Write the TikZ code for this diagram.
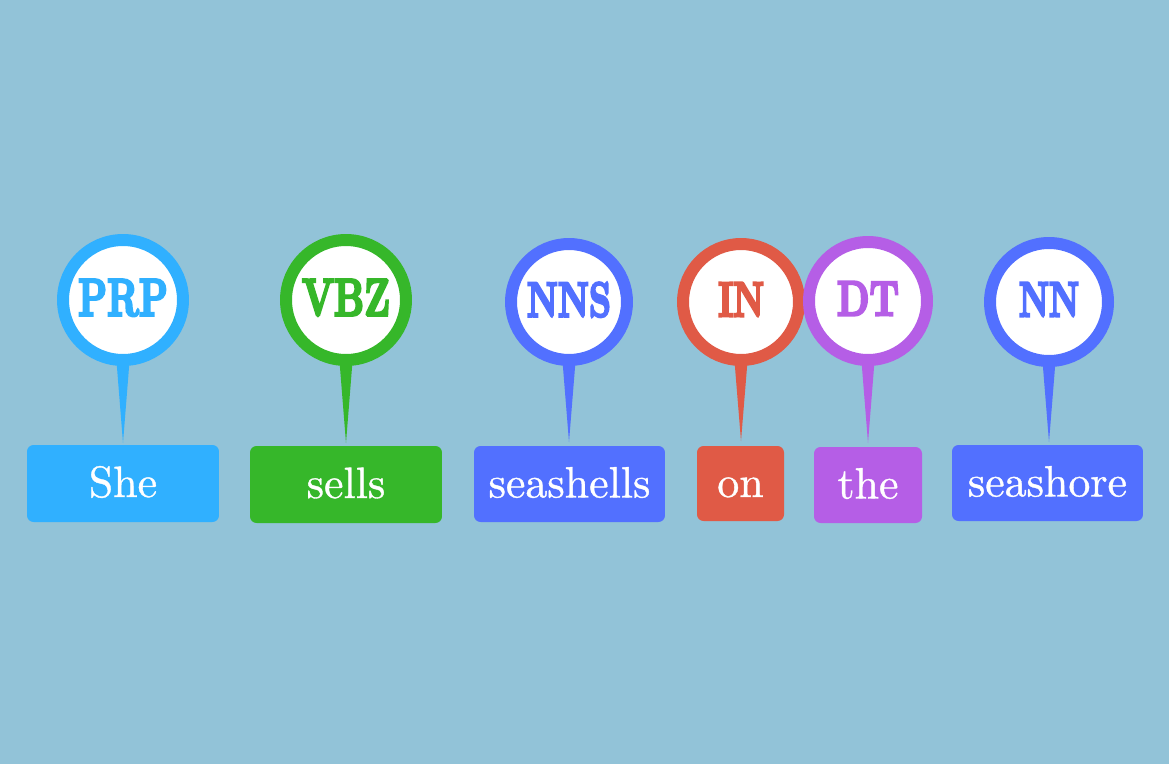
\documentclass[tikz,border=0pt]{standalone}
\usepackage{fontspec}
\usepackage{graphicx}
\usepackage{xcolor}
\usetikzlibrary{calc}
\newfontface\tagfont{lmroman10-bold.otf}[FakeBold=5]
\newfontface\wordfont{lmroman10-regular.otf}[FakeBold=0.8]
\definecolor{bgcol}{HTML}{92C3D8}
\definecolor{prpcol}{HTML}{30B0FF}
\definecolor{vbzcol}{HTML}{36B72A}
\definecolor{nncol}{HTML}{5270FF}
\definecolor{incol}{HTML}{E05A46}
\definecolor{dtcol}{HTML}{B55EE6}
\newcommand{\tagtext}[2][0.7]{\raisebox{0.1cm}{\scalebox{#1}[1]{#2}}}
\tikzset{
	tag/.style={circle, draw=#1, fill=white, line width=0.24cm, inner sep=0pt,
		text=#1, font=\tagfont\fontsize{28}{28}\selectfont},
	word/.style={rectangle, rounded corners=0.13cm, fill=#1, text=white, inner sep=0pt,
		text height=0.6cm, text depth=0.06cm, font=\wordfont\fontsize{25}{25}\selectfont},
	pin/.style={fill=#1}
}

\begin{document}
\begin{tikzpicture}[x=0.02cm, y=-0.02cm]
	\fill[bgcol] (0,0) rectangle (1169,764);
	\useasboundingbox (0,0) rectangle (1169,764);
	
	% word boxes
	\node[word=prpcol, minimum width=3.84cm, minimum height=1.54cm] (she) at (123, 483.5) {She};
	\node[word=vbzcol, minimum width=3.84cm, minimum height=1.54cm] (sells) at (346, 484.5) {sells};
	\node[word=nncol, minimum width=3.82cm, minimum height=1.52cm] (seashells) at (569.5, 484) {seashells};
	\node[word=incol, minimum width=1.74cm, minimum height=1.50cm] (on) at (740.5, 483.5) {on};
	\node[word=dtcol, minimum width=2.16cm, minimum height=1.52cm] (the) at (868, 485) {the};
	\node[word=nncol, minimum width=3.82cm, minimum height=1.52cm] (seashore) at (1047.5, 483) {seashore};
	
	% pins
	\fill[pin=prpcol] (116,355) -- (130,355) -- (123,443) -- cycle;
	\fill[pin=vbzcol] (339,355) -- (353,355) -- (346,443) -- cycle;
	\fill[pin=nncol] (562,355) -- (576,355) -- (569,442) -- cycle;
	\fill[pin=incol] (734,355) -- (748,355) -- (741,441) -- cycle;
	\fill[pin=dtcol] (861,355) -- (875,355) -- (868,443) -- cycle;
	\fill[pin=nncol] (1042,355) -- (1056,355) -- (1049,442) -- cycle;
	
	% tags
	\node[tag=prpcol, minimum size=2.4cm] (prp) at (123, 300) {\fontsize{30}{30}\selectfont\tagtext{PRP}};
	\node[tag=vbzcol, minimum size=2.4cm] (vbz) at (346, 300) {\fontsize{30}{30}\selectfont\tagtext{VBZ}};
	\node[tag=nncol, minimum size=2.32cm] (nns) at (569, 302) {\tagtext{NNS}};
	\node[tag=incol, minimum size=2.32cm] (in) at (741, 302) {\tagtext{IN}};
	\node[tag=dtcol, minimum size=2.36cm] (dt) at (868, 301) {\tagtext[0.75]{DT}};
	\node[tag=nncol, minimum size=2.36cm] (nn) at (1049, 302) {\tagtext[0.68]{NN}};
\end{tikzpicture}
\end{document}
